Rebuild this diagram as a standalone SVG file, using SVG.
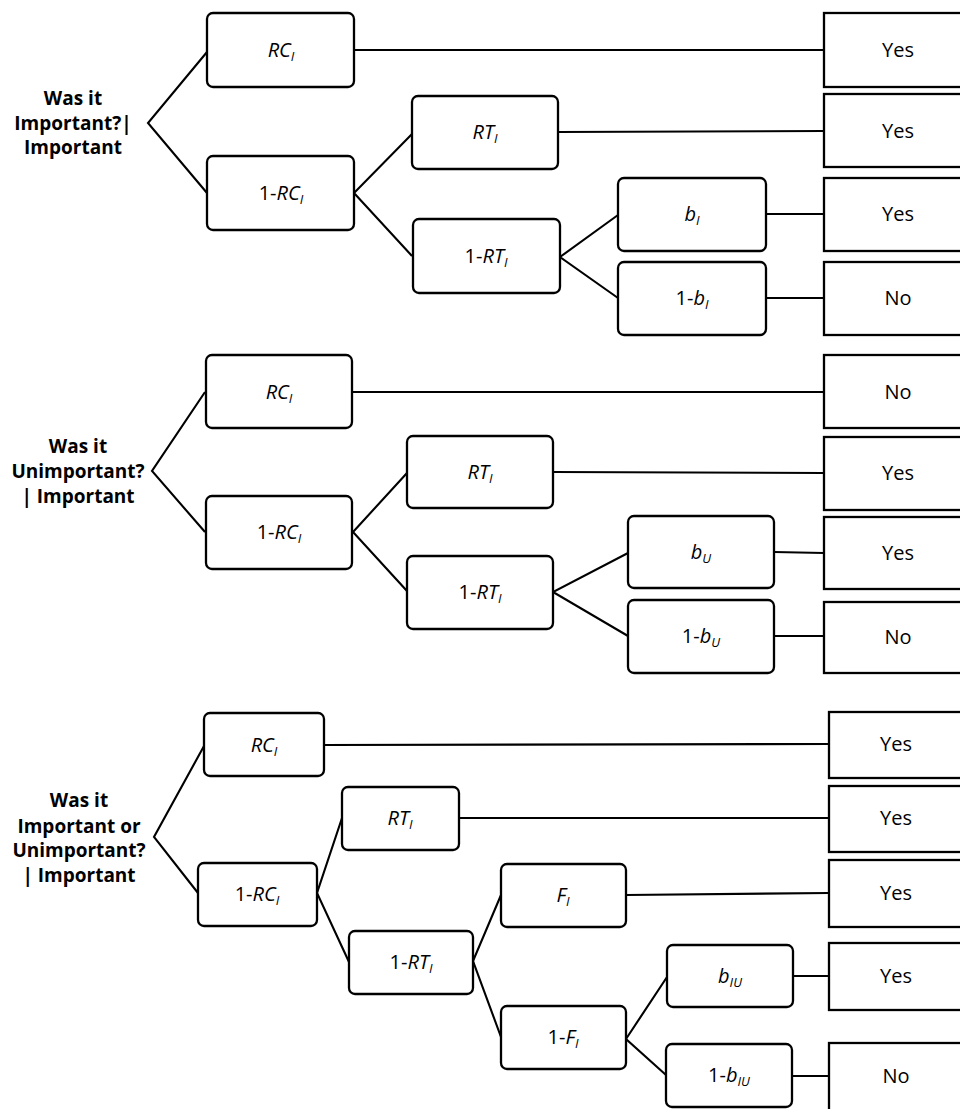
<svg xmlns="http://www.w3.org/2000/svg" width="960" height="1109" viewBox="0 0 960 1109">
<style>
.box{fill:#fff;stroke:#000;stroke-width:2.3}
.out{fill:#fff;stroke:#000;stroke-width:2.3}
.conn line, .conn polyline{stroke:#000;stroke-width:2.1;fill:none}
.lbl{font-family:"Open Sans","Liberation Sans",sans-serif;font-size:20px;text-anchor:middle;fill:#000}
.it{font-style:italic}
.sub{font-size:13px;font-style:italic}
.ttl{font-family:"Open Sans","Liberation Sans",sans-serif;font-size:19px;font-weight:bold;text-anchor:middle;fill:#000}
</style>
<rect width="960" height="1109" fill="#fff"/>

<g class="conn">
<!-- section 1 -->
<polyline points="207,52 148,123 207,193"/>
<line x1="354" y1="50" x2="824" y2="50"/>
<polyline points="412,134 354,193 412,256"/>
<line x1="558" y1="132" x2="824" y2="131"/>
<polyline points="618,215 560,257 618,298"/>
<line x1="766" y1="214" x2="824" y2="214"/>
<line x1="766" y1="298" x2="824" y2="298"/>
<!-- section 2 -->
<polyline points="205,392 152,471 205,532"/>
<line x1="352" y1="392" x2="824" y2="392"/>
<polyline points="407,473 353,532 407,591"/>
<line x1="553" y1="472" x2="824" y2="473"/>
<polyline points="628,553 553,592 628,636"/>
<line x1="774" y1="552" x2="824" y2="553"/>
<line x1="774" y1="636" x2="824" y2="636"/>
<!-- section 3 -->
<polyline points="204,746 154,837 198,893"/>
<line x1="324" y1="745" x2="829" y2="744"/>
<polyline points="342,818 317,893 349,962"/>
<line x1="459" y1="818" x2="829" y2="818"/>
<polyline points="501,895 473,961 501,1037"/>
<line x1="626" y1="895" x2="829" y2="893"/>
<polyline points="667,977 626,1039 666,1075"/>
<line x1="793" y1="976" x2="829" y2="976"/>
<line x1="792" y1="1076" x2="829" y2="1076"/>
</g>

<!-- Section 1 -->
<g id="title1"><text class="ttl" x="73" y="105">Was it</text><text class="ttl" x="73" y="130">Important?|</text><text class="ttl" x="73" y="154">Important</text></g>
<g id="s1-rc"><rect class="box" x="207" y="13" width="147" height="74" rx="6"/><text class="lbl" x="281" y="57"><tspan class="it">RC</tspan><tspan class="sub" dy="4">I</tspan></text></g>
<g id="s1-1rc"><rect class="box" x="207" y="156" width="147" height="74" rx="6"/><text class="lbl" x="281" y="200">1-<tspan class="it">RC</tspan><tspan class="sub" dy="4">I</tspan></text></g>
<g id="s1-rt"><rect class="box" x="412" y="96" width="146" height="73" rx="6"/><text class="lbl" x="485" y="139"><tspan class="it">RT</tspan><tspan class="sub" dy="4">I</tspan></text></g>
<g id="s1-1rt"><rect class="box" x="413" y="219" width="147" height="74" rx="6"/><text class="lbl" x="486" y="263">1-<tspan class="it">RT</tspan><tspan class="sub" dy="4">I</tspan></text></g>
<g id="s1-b"><rect class="box" x="618" y="178" width="148" height="73" rx="6"/><text class="lbl" x="692" y="221"><tspan class="it">b</tspan><tspan class="sub" dy="4">I</tspan></text></g>
<g id="s1-1b"><rect class="box" x="618" y="262" width="148" height="73" rx="6"/><text class="lbl" x="692" y="305">1-<tspan class="it">b</tspan><tspan class="sub" dy="4">I</tspan></text></g>
<g id="s1-o1"><rect class="out" x="824" y="13" width="150" height="74"/><text class="lbl" x="898" y="57">Yes</text></g>
<g id="s1-o2"><rect class="out" x="824" y="94" width="150" height="73"/><text class="lbl" x="898" y="138">Yes</text></g>
<g id="s1-o3"><rect class="out" x="824" y="178" width="150" height="73"/><text class="lbl" x="898" y="221">Yes</text></g>
<g id="s1-o4"><rect class="out" x="824" y="262" width="150" height="73"/><text class="lbl" x="898" y="305">No</text></g>

<!-- Section 2 -->
<g id="title2"><text class="ttl" x="78" y="453">Was it</text><text class="ttl" x="78" y="478">Unimportant?</text><text class="ttl" x="78" y="503">| Important</text></g>
<g id="s2-rc"><rect class="box" x="206" y="355" width="146" height="73" rx="6"/><text class="lbl" x="279" y="399"><tspan class="it">RC</tspan><tspan class="sub" dy="4">I</tspan></text></g>
<g id="s2-1rc"><rect class="box" x="206" y="496" width="146" height="73" rx="6"/><text class="lbl" x="279" y="539">1-<tspan class="it">RC</tspan><tspan class="sub" dy="4">I</tspan></text></g>
<g id="s2-rt"><rect class="box" x="407" y="436" width="146" height="72" rx="6"/><text class="lbl" x="480" y="479"><tspan class="it">RT</tspan><tspan class="sub" dy="4">I</tspan></text></g>
<g id="s2-1rt"><rect class="box" x="407" y="556" width="146" height="73" rx="6"/><text class="lbl" x="480" y="599">1-<tspan class="it">RT</tspan><tspan class="sub" dy="4">I</tspan></text></g>
<g id="s2-b"><rect class="box" x="628" y="516" width="146" height="72" rx="6"/><text class="lbl" x="701" y="559"><tspan class="it">b</tspan><tspan class="sub" dy="4">U</tspan></text></g>
<g id="s2-1b"><rect class="box" x="628" y="600" width="146" height="73" rx="6"/><text class="lbl" x="701" y="643">1-<tspan class="it">b</tspan><tspan class="sub" dy="4">U</tspan></text></g>
<g id="s2-o1"><rect class="out" x="824" y="355" width="150" height="73"/><text class="lbl" x="898" y="399">No</text></g>
<g id="s2-o2"><rect class="out" x="824" y="437" width="150" height="73"/><text class="lbl" x="898" y="480">Yes</text></g>
<g id="s2-o3"><rect class="out" x="824" y="517" width="150" height="72"/><text class="lbl" x="898" y="560">Yes</text></g>
<g id="s2-o4"><rect class="out" x="824" y="602" width="150" height="71"/><text class="lbl" x="898" y="644">No</text></g>

<!-- Section 3 -->
<g id="title3"><text class="ttl" x="79" y="807">Was it</text><text class="ttl" x="79" y="833">Important or</text><text class="ttl" x="79" y="857">Unimportant?</text><text class="ttl" x="79" y="882">| Important</text></g>
<g id="s3-rc"><rect class="box" x="204" y="713" width="120" height="63" rx="6"/><text class="lbl" x="264" y="752"><tspan class="it">RC</tspan><tspan class="sub" dy="4">I</tspan></text></g>
<g id="s3-1rc"><rect class="box" x="198" y="863" width="119" height="63" rx="6"/><text class="lbl" x="257" y="901">1-<tspan class="it">RC</tspan><tspan class="sub" dy="4">I</tspan></text></g>
<g id="s3-rt"><rect class="box" x="342" y="787" width="117" height="63" rx="6"/><text class="lbl" x="400" y="825"><tspan class="it">RT</tspan><tspan class="sub" dy="4">I</tspan></text></g>
<g id="s3-1rt"><rect class="box" x="349" y="931" width="124" height="63" rx="6"/><text class="lbl" x="411" y="969">1-<tspan class="it">RT</tspan><tspan class="sub" dy="4">I</tspan></text></g>
<g id="s3-f"><rect class="box" x="501" y="864" width="125" height="63" rx="6"/><text class="lbl" x="563" y="902"><tspan class="it">F</tspan><tspan class="sub" dy="4">I</tspan></text></g>
<g id="s3-1f"><rect class="box" x="501" y="1006" width="125" height="63" rx="6"/><text class="lbl" x="563" y="1044">1-<tspan class="it">F</tspan><tspan class="sub" dy="4">I</tspan></text></g>
<g id="s3-b"><rect class="box" x="667" y="945" width="126" height="62" rx="6"/><text class="lbl" x="730" y="983"><tspan class="it">b</tspan><tspan class="sub" dy="4">IU</tspan></text></g>
<g id="s3-1b"><rect class="box" x="666" y="1044" width="126" height="63" rx="6"/><text class="lbl" x="729" y="1082">1-<tspan class="it">b</tspan><tspan class="sub" dy="4">IU</tspan></text></g>
<g id="s3-o1"><rect class="out" x="829" y="712" width="150" height="66"/><text class="lbl" x="896" y="751">Yes</text></g>
<g id="s3-o2"><rect class="out" x="829" y="786" width="150" height="66"/><text class="lbl" x="896" y="825">Yes</text></g>
<g id="s3-o3"><rect class="out" x="829" y="860" width="150" height="67"/><text class="lbl" x="896" y="900">Yes</text></g>
<g id="s3-o4"><rect class="out" x="829" y="943" width="150" height="67"/><text class="lbl" x="896" y="983">Yes</text></g>
<g id="s3-o5"><rect class="out" x="829" y="1043" width="150" height="80"/><text class="lbl" x="896" y="1083">No</text></g>
</svg>
